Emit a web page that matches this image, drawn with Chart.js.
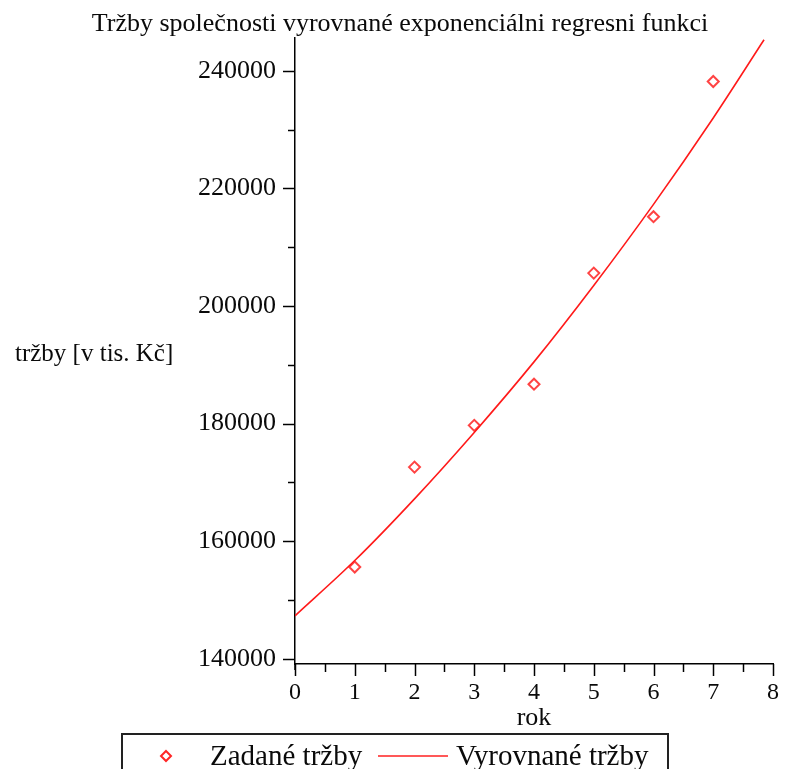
<!DOCTYPE html>
<html>
<head>
<meta charset="utf-8">
<script src="https://cdn.jsdelivr.net/npm/chart.js@4"></script>
<style>
  html, body { margin: 0; padding: 0; background: #fff; }
  #wrap { width: 786px; height: 769px; }
</style>
</head>
<body>
<div id="wrap"><canvas id="chartCanvas" width="786" height="769"></canvas></div>
<script>
// data
const years = [1, 2, 3, 4, 5, 6, 7];
const salesGiven = [155600, 172600, 179700, 186700, 205600, 215200, 238200];
const fitYears = [0, 1, 2, 3, 4, 5, 6, 7, 7.85];
const salesFitted = [147300, 156700, 167200, 178500, 190500, 203500, 217300, 232000, 245300];
const xTicks = [0, 0.5, 1, 1.5, 2, 2.5, 3, 3.5, 4, 4.5, 5, 5.5, 6, 6.5, 7, 7.5, 8];
const yTicks = [140000, 150000, 160000, 170000, 180000, 190000, 200000, 210000, 220000, 230000, 240000];
const chartTitle = 'Tržby společnosti vyrovnané exponenciálni regresni funkci';
const xTitle = 'rok';
const yTitle = 'tržby [v tis. Kč]';

const serif = '"Liberation Serif", "DejaVu Serif", serif';
const ctx = document.getElementById('chartCanvas').getContext('2d');

// tick marks (long for labelled ticks, short for the others), titles, boxed legend
const decorations = {
  id: 'decorations',
  afterDraw(chart) {
    const c = chart.ctx;
    const xs = chart.scales.x, ys = chart.scales.y;
    const area = chart.chartArea;
    c.save();
    c.strokeStyle = '#000';
    c.lineWidth = 1.5;
    ys.ticks.forEach(t => {
      const py = Math.round(ys.getPixelForValue(t.value)) + 0.5;
      const len = t.value % 20000 === 0 ? 12 : 7;
      c.beginPath(); c.moveTo(area.left, py); c.lineTo(area.left - len, py); c.stroke();
    });
    xs.ticks.forEach(t => {
      const px = Math.round(xs.getPixelForValue(t.value)) + 0.5;
      const len = Number.isInteger(t.value) ? 12 : 8;
      c.beginPath(); c.moveTo(px, area.bottom); c.lineTo(px, area.bottom + len); c.stroke();
    });
    // axis line runs a little past the x axis, as in the source
    c.beginPath(); c.moveTo(area.left, area.bottom); c.lineTo(area.left, area.bottom + 6); c.stroke();

    c.fillStyle = '#0a0a0a';
    c.textBaseline = 'middle';
    c.textAlign = 'center';
    c.font = '26px ' + serif;
    c.fillText(chartTitle, 400, 24);
    c.fillText(xTitle, 534, 718);
    c.textAlign = 'left';
    c.font = '25px ' + serif;
    c.fillText(yTitle, 15, 354);

    // legend
    const ds = chart.data.datasets;
    c.lineWidth = 2;
    c.strokeStyle = '#222';
    c.strokeRect(122, 734, 546, 60);
    c.strokeStyle = 'rgba(255,0,0,0.85)';
    c.beginPath();
    c.moveTo(166, 751); c.lineTo(171, 756); c.lineTo(166, 761); c.lineTo(161, 756); c.closePath();
    c.stroke();
    c.strokeStyle = '#ff2020';
    c.lineWidth = 1.5;
    c.beginPath(); c.moveTo(378, 756); c.lineTo(448, 756); c.stroke();
    c.font = '29px ' + serif;
    c.fillStyle = '#0a0a0a';
    c.fillText(ds[0].label, 210, 757);
    c.fillText(ds[1].label, 456, 757);
    c.restore();
  }
};

new Chart(ctx, {
  type: 'scatter',
  data: {
    datasets: [
      {
        label: 'Zadané tržby',
        data: years.map((x, i) => ({ x: x, y: salesGiven[i] })),
        pointStyle: 'rectRot',
        pointRadius: 5.5,
        pointBorderWidth: 2,
        borderColor: 'rgba(255,20,20,0.8)',
        backgroundColor: '#fff',
        order: 0
      },
      {
        label: 'Vyrovnané tržby',
        data: fitYears.map((x, i) => ({ x: x, y: salesFitted[i] })),
        showLine: true,
        pointRadius: 0,
        borderColor: '#ff1a1a',
        borderWidth: 1.6,
        cubicInterpolationMode: 'monotone',
        order: 1
      }
    ]
  },
  options: {
    responsive: false,
    animation: false,
    layout: { padding: { top: 38, right: 13, left: 0, bottom: 0 } },
    plugins: {
      legend: { display: false },
      title: { display: false },
      tooltip: { enabled: false }
    },
    scales: {
      x: {
        type: 'linear',
        min: 0,
        max: 8,
        afterBuildTicks: s => { s.ticks = xTicks.map(v => ({ value: v })); },
        afterFit: s => { s.height = 105; },
        border: { display: true, color: '#000', width: 1.5 },
        grid: { display: true, drawOnChartArea: false, drawTicks: true, tickLength: 12, tickColor: 'transparent' },
        ticks: {
          color: '#0a0a0a',
          font: { family: serif, size: 24 },
          padding: 2,
          maxRotation: 0,
          autoSkip: false,
          callback: v => Number.isInteger(v) ? v : ''
        }
      },
      y: {
        type: 'linear',
        min: 139100,
        max: 245600,
        afterBuildTicks: s => { s.ticks = yTicks.map(v => ({ value: v })); },
        afterFit: s => { s.width = 295; },
        border: { display: true, color: '#000', width: 1.5 },
        grid: { display: true, drawOnChartArea: false, drawTicks: true, tickLength: 13, tickColor: 'transparent' },
        ticks: {
          color: '#0a0a0a',
          font: { family: serif, size: 26 },
          padding: 6,
          autoSkip: false,
          callback: v => v % 20000 === 0 ? String(v) : ''
        }
      }
    }
  },
  plugins: [decorations]
});
</script>
</body>
</html>
